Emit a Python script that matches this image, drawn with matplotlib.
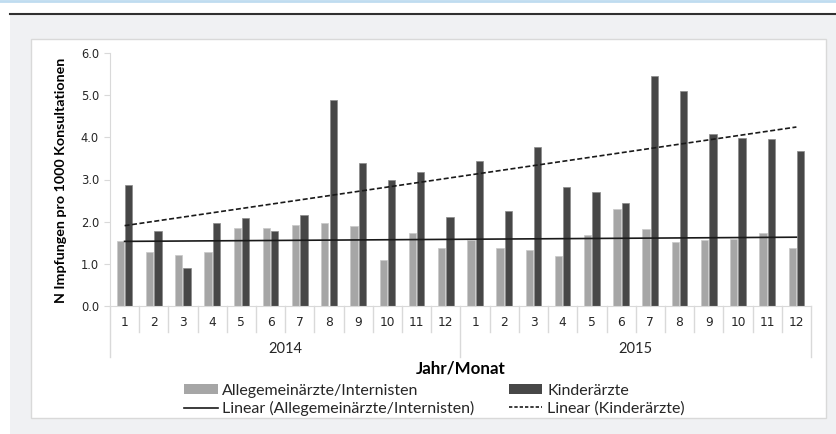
import matplotlib
matplotlib.use("Agg")
import matplotlib.pyplot as plt
import matplotlib.transforms as mtransforms
from matplotlib.patches import Rectangle, Patch
from matplotlib.lines import Line2D
import numpy as np

# data (per 1000 consultations)
years = ["2014", "2015"]
months = [str(m) for m in range(1, 13)] * 2
allgemein = [1.54, 1.27, 1.20, 1.27, 1.85, 1.84, 1.92, 1.97, 1.89, 1.08, 1.73, 1.38,
             1.57, 1.37, 1.33, 1.19, 1.68, 2.30, 1.82, 1.51, 1.57, 1.59, 1.73, 1.37]
kinder = [2.88, 1.78, 0.91, 1.96, 2.09, 1.78, 2.15, 4.89, 3.39, 2.98, 3.17, 2.11,
          3.44, 2.25, 3.77, 2.83, 2.70, 2.45, 5.46, 5.09, 4.09, 3.99, 3.97, 3.67]

c_light = "#a6a6a6"
c_dark = "#474747"
c_grid = "#d9d9d9"
c_text = "#262626"

W, H = 836, 434
fig = plt.figure(figsize=(W / 100, H / 100), dpi=100)
fig.patch.set_facecolor("white")

# background panels
fig.add_artist(Rectangle((10 / W, 0), 1, 1 - 14 / H, transform=fig.transFigure,
                         facecolor="#f0f1f3", edgecolor="none", zorder=-3))
fig.add_artist(Line2D([10 / W, 1], [1 - 14 / H] * 2, transform=fig.transFigure,
                      color="#303030", lw=1.5, zorder=-2))
fig.add_artist(Line2D([0, 1], [1 - 1 / H] * 2, transform=fig.transFigure,
                      color="#bfdcf0", lw=2, zorder=-2))
fig.add_artist(Rectangle((31 / W, 1 - 418 / H), (826 - 31) / W, (418 - 39) / H,
                         transform=fig.transFigure, facecolor="white",
                         edgecolor=c_grid, lw=1, zorder=-1))

ax = fig.add_axes([110 / W, 1 - 306 / H, (811 - 110) / W, (306 - 53) / H])
ax.set_facecolor("none")

n = len(months)
x = np.arange(n) + 0.5
bw = 0.25
ax.bar(x - 0.145, allgemein, bw, color=c_light, edgecolor="#c8c8c8", lw=0.5, zorder=2)
ax.bar(x + 0.14, kinder, bw, color=c_dark, edgecolor="#8a8a8a", lw=0.5, zorder=2)

# linear trend lines
t = np.arange(1, n + 1)
pa = np.polyfit(t, allgemein, 1)
pk = np.polyfit(t, kinder, 1)
ax.plot(x, np.polyval(pa, t), color="#1a1a1a", lw=1.2, zorder=3)
ax.plot(x, np.polyval(pk, t), color="#1a1a1a", lw=1.2, ls=(0, (3, 1.5)), zorder=3)

ax.set_xlim(0, n)
ax.set_ylim(0, 6)
ax.set_yticks(np.arange(0, 6.1, 1.0))
ax.set_yticklabels([f"{v:.1f}" for v in np.arange(0, 6.1, 1.0)])
ax.tick_params(axis="y", length=4, color=c_grid, labelsize=8.3, labelcolor=c_text, pad=4)
ax.set_xticks([])
for s in ["top", "right"]:
    ax.spines[s].set_visible(False)
ax.spines["left"].set_color(c_grid)
ax.spines["bottom"].set_color(c_grid)

# multi-level category axis
trans = mtransforms.blended_transform_factory(ax.transData, ax.transAxes)
ph = 306 - 53
for i in range(n + 1):
    depth = 51 if i % 12 == 0 else 26
    ax.plot([i, i], [0, -depth / ph], color=c_grid, lw=1, transform=trans, clip_on=False)
for i, m in enumerate(months):
    ax.text(i + 0.5, -17 / ph, m, transform=trans, ha="center", va="center",
            fontsize=8.8, color=c_text)
for j, yr in enumerate(years):
    ax.text(12 * j + 6, -43 / ph, yr, transform=trans, ha="center", va="center",
            fontsize=10.5, color=c_text, family="Lato")
ax.text(n / 2, -63 / ph, "Jahr/Monat", transform=trans, ha="center", va="center",
        fontsize=12.2, fontweight="bold", color="black", family="Lato")

fig.text(61 / W, 1 - 180 / H, "N Impfungen pro 1000 Konsultationen", rotation=90,
         ha="center", va="center", fontsize=10.3, fontweight="bold", color="black",
         family="Lato")

handles = [Patch(facecolor=c_light, edgecolor="none"),
           Line2D([], [], color="#1a1a1a", lw=1.2),
           Patch(facecolor=c_dark, edgecolor="none"),
           Line2D([], [], color="#1a1a1a", lw=1.2, ls=(0, (2, 1.2)))]
labels = ["Allegemeinärzte/Internisten", "Linear (Allegemeinärzte/Internisten)",
          "Kinderärzte", "Linear (Kinderärzte)"]
fig.legend(handles, labels, ncol=2, loc="upper left",
           bbox_to_anchor=(176 / W, 1 - 376 / H), frameon=False,
           prop={"family": "Lato", "size": 11.5}, handlelength=2.1, handleheight=0.6,
           handletextpad=0.3, columnspacing=2.15, labelspacing=0.2, borderpad=0,
           labelcolor=c_text)

fig.savefig("out.png", dpi=100)
